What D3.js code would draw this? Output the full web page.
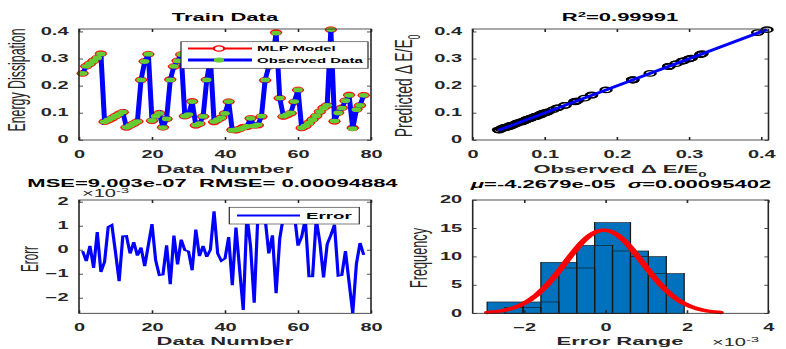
<!DOCTYPE html>
<html><head><meta charset="utf-8">
<script src="https://cdn.jsdelivr.net/npm/d3@7"></script>
<style>
body{margin:0;background:#fff}
svg{display:block}
text{white-space:pre}
</style>
</head><body>
<svg id="c" width="786" height="349"></svg>
<script>
// ---------------- data ----------------
const dataNumber = d3.range(1, 79);
const observed = [
 0.246,0.272,0.282,0.292,0.303,0.318,0.067,0.074,0.081,0.088,
 0.095,0.103,0.047,0.054,0.061,0.068,0.222,0.290,0.317,0.072,
 0.088,0.098,0.046,0.078,0.222,0.272,0.292,0.316,0.088,0.094,
 0.142,0.055,0.060,0.087,0.222,0.300,0.068,0.075,0.082,0.098,
 0.142,0.036,0.037,0.040,0.045,0.050,0.080,0.052,0.056,0.088,
 0.222,0.272,0.300,0.395,0.155,0.088,0.094,0.100,0.142,0.185,
 0.045,0.052,0.062,0.075,0.090,0.105,0.118,0.128,0.408,0.070,
 0.100,0.118,0.145,0.165,0.042,0.112,0.128,0.165];
// error in units of 1e-3
const errorE3 = [
 -0.05,-0.47,0.17,-0.75,0.75,-0.92,-0.50,0.96,1.04,-0.10,
 -1.30,0.57,0.58,-0.15,0.33,-0.24,0.10,-0.68,0.20,1.08,
 -0.43,-1.05,-1.03,0.19,-1.43,0.60,-0.60,0.43,-0.01,-0.06,
 -0.85,0.85,-0.26,0.17,-0.29,0.01,1.61,-0.15,-0.46,-0.36,
 0.54,-1.47,0.93,-0.80,-2.50,1.45,0.15,-2.20,1.40,1.60,
 1.30,-0.15,0.61,-1.80,0.47,1.40,1.70,1.20,1.50,0.18,
 0.54,1.30,-1.10,-1.10,1.30,0.30,-1.15,0.24,0.62,1.05,
 -1.08,-1.05,-0.05,-1.35,-2.64,-0.58,0.29,-0.21];
const predicted = observed.map((v, i) => v - errorE3[i] * 1e-3);

const histBinWidth = 0.881;              // x 1e-3
const histLeftA = [-2.914, -2.033, -1.152, -0.271, 0.610];
const histCountA = [2, 2, 8, 16, 10];
const histLeftB = [-2.474, -1.593, -0.712, 0.169, 1.050];
const histCountB = [1, 9, 12, 11, 7];
const fitMu = -4.2679e-05 * 1e3, fitSigma = 0.00095402 * 1e3, fitN = 78, fitBin = 0.45;

const ticksTrainX = [0, 20, 40, 60, 80];
const ticksTrainY = [0, 0.1, 0.2, 0.3, 0.4];
const ticksReg = [0, 0.1, 0.2, 0.3, 0.4];
const ticksErrY = [-2, -1, 0, 1, 2];
const ticksHistX = [-2, 0, 2, 4];
const ticksHistY = [0, 5, 10, 15, 20];

// ---------------- drawing ----------------
const FONT = '"Liberation Sans", Arial, Helvetica, sans-serif';
const INK = '#262626';
const svg = d3.select('#c');
const root = svg.append('g').attr('transform', 'scale(1,0.5)');   // figure squeezed vertically
const defs = svg.append('defs');

function T(g, x, y, s, size, o = {}) {
  const t = g.append('text').attr('x', x).attr('y', y).attr('font-family', FONT)
    .attr('font-size', size).attr('fill', o.fill || INK)
    .attr('font-weight', o.bold === false ? 'normal' : 'bold')
    .attr('text-anchor', o.anchor || 'middle');
  if (o.rot) t.attr('transform', `rotate(-90,${x},${y})`);
  if (o.len) t.attr('textLength', o.len).attr('lengthAdjust', 'spacingAndGlyphs');
  if (s !== null) t.text(s);
  return t;
}
function fmt1(v) { return v === 0 ? '0' : v.toFixed(1); }

function drawAxes(p, xs, ys, xt, yt, xf, yf, id) {
  const g = root.append('g');
  g.append('g').attr('transform', `translate(0,${p.y1})`)
    .call(d3.axisBottom(xs).tickValues(xt).tickFormat(xf).tickSize(-6).tickPadding(21));
  g.append('g').attr('transform', `translate(0,${p.y0})`)
    .call(d3.axisTop(xs).tickValues(xt).tickFormat('').tickSize(-6));
  g.append('g').attr('transform', `translate(${p.x0},0)`)
    .call(d3.axisLeft(ys).tickValues(yt).tickFormat(yf).tickSize(-4).tickPadding(10.5));
  g.append('g').attr('transform', `translate(${p.x1},0)`)
    .call(d3.axisRight(ys).tickValues(yt).tickFormat('').tickSize(-4));
  g.selectAll('.domain').remove();
  g.selectAll('.tick line').attr('stroke', INK).attr('stroke-width', 1.6);
  g.selectAll('.tick text').attr('font-family', FONT).attr('font-weight', 'bold')
    .attr('font-size', 20).attr('fill', INK);
  g.append('rect').attr('x', p.x0).attr('y', p.y0).attr('width', p.x1 - p.x0)
    .attr('height', p.y1 - p.y0).attr('fill', 'none').attr('stroke', INK).attr('stroke-width', 1.6);
  defs.append('clipPath').attr('id', id).append('rect')
    .attr('x', p.x0).attr('y', p.y0).attr('width', p.x1 - p.x0).attr('height', p.y1 - p.y0);
}

// ===== Panel 1: Train Data =====
const P1 = {x0: 79, x1: 371, y0: 58, y1: 280};
const x1s = d3.scaleLinear().domain([0, 80]).range([P1.x0, P1.x1]);
const y1s = d3.scaleLinear().domain([0, 0.41]).range([P1.y1, P1.y0]);
const g1 = root.append('g');
const line1 = (arr) => d3.line().x((d, i) => x1s(dataNumber[i])).y(d => y1s(d))(arr);
g1.append('path').attr('d', line1(predicted)).attr('fill', 'none').attr('stroke', '#ff0000').attr('stroke-width', 3);
g1.selectAll('.pm').data(predicted).enter().append('circle')
  .attr('cx', (d, i) => x1s(dataNumber[i])).attr('cy', d => y1s(d)).attr('r', 5.8)
  .attr('fill', '#ff0000').attr('stroke', '#ff0000').attr('stroke-width', 1);
g1.append('path').attr('d', line1(observed)).attr('fill', 'none').attr('stroke', '#0000ff').attr('stroke-width', 5);
g1.selectAll('.om').data(observed).enter().append('circle')
  .attr('cx', (d, i) => x1s(dataNumber[i])).attr('cy', d => y1s(d)).attr('r', 4.8)
  .attr('fill', '#66cc33');
drawAxes(P1, x1s, y1s, ticksTrainX, ticksTrainY, d3.format('d'), fmt1, 'cp1');
// legend
const L1 = root.append('g');
L1.append('rect').attr('x', 181).attr('y', 83.5).attr('width', 187).attr('height', 53)
  .attr('fill', '#fff').attr('stroke', INK).attr('stroke-width', 1.2);
L1.append('line').attr('x1', 188).attr('x2', 252).attr('y1', 97).attr('y2', 97).attr('stroke', '#ff0000').attr('stroke-width', 4);
L1.append('circle').attr('cx', 219).attr('cy', 97).attr('r', 5.2).attr('fill', '#fff').attr('stroke', '#ff0000').attr('stroke-width', 2.4);
L1.append('line').attr('x1', 188).attr('x2', 252).attr('y1', 120).attr('y2', 120).attr('stroke', '#0000ff').attr('stroke-width', 6);
L1.append('circle').attr('cx', 219).attr('cy', 120).attr('r', 5.2).attr('fill', '#66cc33');
T(L1, 257, 102.5, 'MLP Model', 15, {anchor: 'start', fill: '#000'});
T(L1, 257, 125.5, 'Observed Data', 15, {anchor: 'start', fill: '#000'});
T(root, 225, 43, 'Train Data', 22, {fill: '#000'});
T(root, 225, 347, 'Data Number', 22);
T(root, 25, 160, 'Energy Dissipation', 23, {rot: true, bold: false, len: 206});

// ===== Panel 2: regression =====
const P2 = {x0: 472.5, x1: 768.5, y0: 58, y1: 280};
const x2s = d3.scaleLinear().domain([0, 0.41]).range([P2.x0, P2.x1]);
const y2s = d3.scaleLinear().domain([0, 0.41]).range([P2.y1, P2.y0]);
const g2 = root.append('g');
g2.selectAll('circle').data(observed).enter().append('circle')
  .attr('cx', d => x2s(d)).attr('cy', (d, i) => y2s(predicted[i])).attr('r', 5.4)
  .attr('fill', 'none').attr('stroke', '#000').attr('stroke-width', 2.6);
const oMin = d3.min(observed), oMax = d3.max(observed);
g2.append('line').attr('x1', x2s(oMin)).attr('y1', y2s(oMin)).attr('x2', x2s(oMax)).attr('y2', y2s(oMax))
  .attr('stroke', '#0000ff').attr('stroke-width', 5);
drawAxes(P2, x2s, y2s, ticksReg, ticksReg, fmt1, fmt1, 'cp2');
const t2 = T(root, 620, 43, null, 22, {fill: '#000'});
t2.append('tspan').text('R');
t2.append('tspan').attr('font-size', 15).attr('dy', -9).text('2');
t2.append('tspan').attr('dy', 9).text('=0.99991');
const xl2 = T(root, 620, 346, null, 22);
xl2.append('tspan').text('Observed \u0394 E/E');
xl2.append('tspan').attr('font-size', 15).attr('dy', 8).text('0');
const yl2 = T(root, 412, 172, null, 23, {rot: true, bold: false});
yl2.append('tspan').attr('textLength', 196).attr('lengthAdjust', 'spacingAndGlyphs').text('Predicted \u0394 E/E');
yl2.append('tspan').attr('font-size', 16).attr('dy', 8).text('0');

// ===== Panel 3: error =====
const P3 = {x0: 79, x1: 371, y0: 400, y1: 626.6};
const x3s = d3.scaleLinear().domain([0, 80]).range([P3.x0, P3.x1]);
const y3s = d3.scaleLinear().domain([-2.64, 2.08]).range([P3.y1, P3.y0]);
drawAxes(P3, x3s, y3s, ticksTrainX, ticksErrY, d3.format('d'), d3.format('d'), 'cp3');
root.append('g').attr('clip-path', 'url(#cp3)').append('path')
  .attr('d', d3.line().x((d, i) => x3s(dataNumber[i])).y(d => y3s(d))(errorE3))
  .attr('fill', 'none').attr('stroke', '#0000ff').attr('stroke-width', 3.2);
const L3 = root.append('g');
L3.append('rect').attr('x', 229.3).attr('y', 414.5).attr('width', 130).attr('height', 33.5)
  .attr('fill', '#fff').attr('stroke', INK).attr('stroke-width', 1.2);
L3.append('line').attr('x1', 237).attr('x2', 300).attr('y1', 431).attr('y2', 431).attr('stroke', '#0000ff').attr('stroke-width', 4);
T(L3, 306, 437.5, 'Error', 18.7, {anchor: 'start', fill: '#000'});
T(root, 212.5, 374, 'MSE=9.003e-07  RMSE= 0.00094884', 22, {fill: '#000'});
T(root, 225, 690, 'Data Number', 22);
T(root, 38, 518, 'Erorr', 23, {rot: true, bold: false, len: 52});
const ex3 = T(root, 82, 395, null, 20, {anchor: 'start', bold: false});
ex3.append('tspan').text('\u00d710');
ex3.append('tspan').attr('font-size', 15).attr('dy', -9).text('-3');

// ===== Panel 4: histogram =====
const P4 = {x0: 472.7, x1: 768.3, y0: 400, y1: 626.6};
const x4s = d3.scaleLinear().domain([-3.27, 4]).range([P4.x0, P4.x1]);
const y4s = d3.scaleLinear().domain([0, 20]).range([P4.y1, P4.y0]);
const bars = histLeftA.map((l, i) => ({l, c: histCountA[i]}))
  .concat(histLeftB.map((l, i) => ({l, c: histCountB[i]})));
const g4 = root.append('g');
g4.selectAll('.bf').data(bars).enter().append('rect')
  .attr('x', d => x4s(d.l)).attr('width', d => x4s(d.l + histBinWidth) - x4s(d.l))
  .attr('y', d => y4s(d.c)).attr('height', d => y4s(0) - y4s(d.c)).attr('fill', '#0072bd');
g4.selectAll('.be').data(bars).enter().append('rect')
  .attr('x', d => x4s(d.l)).attr('width', d => x4s(d.l + histBinWidth) - x4s(d.l))
  .attr('y', d => y4s(d.c)).attr('height', d => y4s(0) - y4s(d.c))
  .attr('fill', 'none').attr('stroke', '#1a1a1a').attr('stroke-width', 1.3);
const fitX = d3.range(fitMu - 3 * fitSigma, fitMu + 3 * fitSigma + 1e-9, fitSigma / 20);
const fitY = fitX.map(x => fitN * fitBin * Math.exp(-0.5 * ((x - fitMu) / fitSigma) ** 2) / (fitSigma * Math.sqrt(2 * Math.PI)));
g4.append('path').attr('d', d3.line().x((d, i) => x4s(fitX[i])).y(d => y4s(d))(fitY))
  .attr('fill', 'none').attr('stroke', '#ff0000').attr('stroke-width', 7).attr('stroke-linecap', 'round');
drawAxes(P4, x4s, y4s, ticksHistX, ticksHistY, d3.format('d'), d3.format('d'), 'cp4');
const t4 = T(root, 621, 377, null, 22, {fill: '#000'});
t4.append('tspan').attr('font-style', 'italic').text('\u03bc');
t4.append('tspan').text('=-4.2679e-05  ');
t4.append('tspan').attr('font-style', 'italic').text('\u03c3');
t4.append('tspan').text('=0.00095402');
T(root, 620, 690, 'Error Range', 22);
T(root, 427, 516, 'Frequency', 23, {rot: true, bold: false, len: 120});
const ex4 = T(root, 712, 693, null, 20, {anchor: 'start', bold: false});
ex4.append('tspan').text('\u00d710');
ex4.append('tspan').attr('font-size', 15).attr('dy', -9).text('-3');
</script>
</body></html>
